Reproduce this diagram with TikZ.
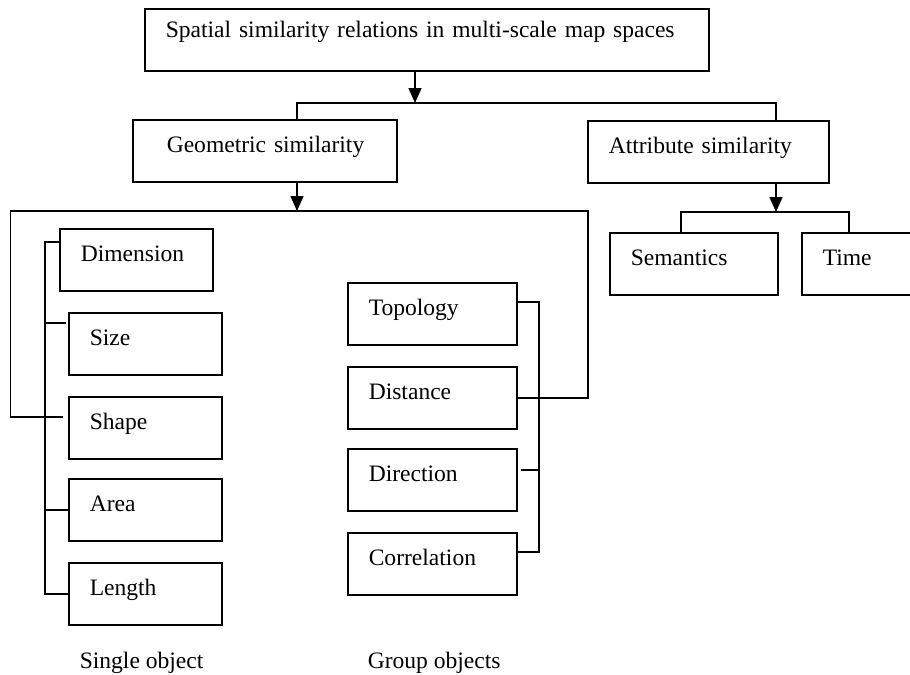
\documentclass[tikz,border=0pt]{standalone}
\usepackage{fontspec}
\setmainfont{Liberation Serif}
\usepackage{tikz}
\usetikzlibrary{arrows.meta, positioning, calc}

\begin{document}
\begin{tikzpicture}[
    line width=0.9pt,
    box/.style={draw, anchor=north west, align=left, inner xsep=0.42cm, inner ysep=0pt,
      minimum height=1.24cm, text height=10pt, text depth=7.7pt,
      font=\fontsize{13.4}{15}\selectfont},
    arr/.style={-{Triangle[width=0.26cm, length=0.3cm]}},
    lbl/.style={anchor=base west, inner sep=0pt, font=\fontsize{13.4}{15}\selectfont}
  ]
  \useasboundingbox (0,0) rectangle (18.2,-13.5);

  % Root and the two kinds of similarity
  \node[box, text width=10.44cm, text depth=12.2pt] (root) at (2.88,-0.16) {Spatial similarity relations in multi-scale map spaces};
  \node[box, text width=4.44cm] (geo) at (2.64,-2.38) {\hspace*{0.26cm}Geometric similarity};
  \node[box, text width=3.98cm] (attr) at (11.74,-2.40) {Attribute similarity};

  % Single object
  \node[box, text width=2.22cm] (dim) at (1.18,-4.56) {Dimension};
  \node[box, text width=2.22cm] (size) at (1.36,-6.24) {Size};
  \node[box, text width=2.22cm] (shp) at (1.36,-7.92) {Shape};
  \node[box, text width=2.22cm] (area) at (1.36,-9.56) {Area};
  \node[box, text width=2.22cm] (len) at (1.36,-11.24) {Length};

  % Group objects
  \node[box, text width=2.54cm] (topo) at (6.94,-5.64) {Topology};
  \node[box, text width=2.54cm] (dist) at (6.94,-7.32) {Distance};
  \node[box, text width=2.54cm] (dir) at (6.94,-8.96) {Direction};
  \node[box, text width=2.54cm] (corr) at (6.94,-10.64) {Correlation};

  % Attribute kinds
  \node[box, text width=2.52cm] (sem) at (12.18,-4.64) {Semantics};
  \node[box, text width=2.52cm] (time) at (16.02,-4.64) {Time};

  \node[lbl] (single) at (1.58,-13.36) {Single object};
  \node[lbl] (group) at (7.34,-13.36) {Group objects};

  % First level
  \coordinate (split) at (8.30,-2.06);
  \coordinate (gx) at (5.94,-4.22);
  \coordinate (ax) at (15.52,-4.24);
  \draw[arr] (root.south -| split) -- (split);
  \draw (geo.north -| gx) |- (split) -| (attr.north -| ax);
  \draw[arr] (geo.south -| gx) -- (gx);
  \draw[arr] (attr.south -| ax) -- (ax);

  % Semantics and time
  \coordinate (sx) at (13.62,0);
  \coordinate (tx) at (16.98,0);
  \draw (sem.north -| sx) |- (ax) -| (time.north -| tx);

  % Bracket of the geometric kinds
  \coordinate (lb) at (0.21,0);
  \coordinate (rb) at (11.76,0);
  \path ($(shp.north west)+(-0.1,-0.42)$) coordinate (shpc);
  \draw (shpc) -| (lb |- gx) -| (rb |- dist.east) -- (dist.east);

  % Bus of single object
  \coordinate (sb) at (0.90,0);
  \path ($(dim.north west)+(0,-0.28)$) coordinate (dimc)
        ($(size.north west)+(-0.04,-0.22)$) coordinate (sizec);
  \draw (dimc) -| (sb |- len.west) -- (len.west);
  \draw (sizec) -- (sb |- sizec);
  \draw (area.west) -- (sb |- area.west);

  % Bus of group objects
  \coordinate (gb) at (10.78,0);
  \path ($(topo.north east)+(0,-0.40)$) coordinate (topoc)
        ($(dir.north east)+(0.06,-0.44)$) coordinate (dirc)
        ($(corr.north east)+(0,-0.40)$) coordinate (corrc);
  \draw (topoc) -| (gb |- corrc) -- (corrc);
  \draw (dirc) -- (gb |- dirc);
\end{tikzpicture}
\end{document}
